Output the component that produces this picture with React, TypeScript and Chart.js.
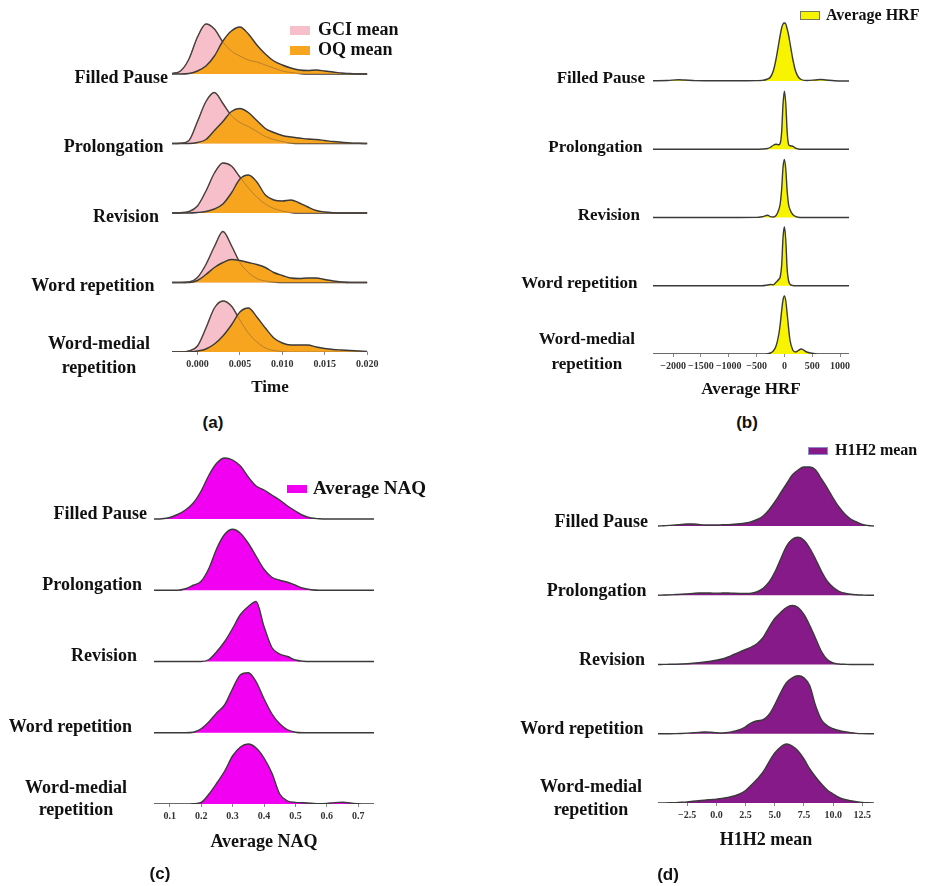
import React, { useEffect, useRef } from 'react';
import { Chart, registerables } from 'chart.js';

Chart.register(...registerables);

// ---------------- Shared categories ----------------
const CATEGORY_LINES: string[][] = [
  ['Filled Pause'],
  ['Prolongation'],
  ['Revision'],
  ['Word repetition'],
  ['Word-medial', 'repetition'],
];

// ---------------- Panel (a): GCI mean / OQ mean vs Time ----------------
const TIME_X = [-0.003, -0.002, -0.001, 0, 0.001, 0.002, 0.003, 0.004, 0.005, 0.006, 0.007, 0.008,
  0.009, 0.01, 0.011, 0.012, 0.013, 0.014, 0.015, 0.016, 0.017, 0.018, 0.019, 0.02];
const TIME_TICKS = [0, 0.005, 0.01, 0.015, 0.02];
const GCI_FP = [0.5, 3, 15, 37, 50, 45, 32, 23, 18, 14, 12, 9, 6, 3, 1.5, 0.5, 0, 0, 0, 0, 0, 0, 0, 0];
const GCI_PRO = [0, 0.3, 3, 22, 42, 51, 40, 28, 21, 17, 12, 7, 4, 2, 0.5, 0, 0, 0, 0, 0, 0, 0, 0, 0];
const GCI_REV = [0, 0.3, 1.5, 7, 22, 40, 50, 47, 36, 25, 16, 9, 4.5, 2, 0.5, 0, 0, 0, 0, 0, 0, 0, 0, 0];
const GCI_WR = [0, 0, 0.5, 5, 18, 36, 51, 37, 20, 10, 4, 1.5, 0.5, 0, 0, 0, 0, 0, 0, 0, 0, 0, 0, 0];
const GCI_WM = [0, 0, 1, 6, 24, 44, 51, 46, 32, 19, 10, 4, 1.5, 0.5, 0, 0, 0, 0, 0, 0, 0, 0, 0, 0];
const OQ_FP = [0, 0, 0.5, 3, 8, 18, 33, 43, 47, 40, 29, 20, 13, 9, 6, 4, 3.5, 4, 3, 2, 1, 0.5, 0, 0];
const OQ_PRO = [0, 0, 0, 1, 4, 13, 22, 32, 35, 31, 23, 15, 11, 8, 6.5, 5.5, 4.5, 4, 3, 2, 1.2, 0.5, 0.2, 0];
const OQ_REV = [0, 0, 0, 0.5, 1.5, 4, 9, 20, 34, 38, 31, 18, 13, 12, 13, 10, 6, 2.5, 1, 0.3, 0, 0, 0, 0];
const OQ_WR = [0, 0, 0, 2, 8, 15, 20, 23, 22, 20, 18, 15, 10, 7, 4.5, 4, 4.5, 4.5, 3, 1.5, 0.5, 0, 0, 0];
const OQ_WM = [0, 0, 0, 1, 3, 8, 16, 27, 40, 44, 35, 24, 14, 9, 7, 7, 7, 5, 3.5, 2.5, 2, 1.5, 1, 0.5];

// ---------------- Panel (b): Average HRF ----------------
const HRF_X = [-2360, -2100, -1900, -1800, -1600, -1200, -800, -500, -400, -300, -250, -200, -150, -100,
  -75, -50, -25, 0, 25, 50, 75, 100, 150, 200, 250, 300, 400, 550, 650, 750, 900, 1160];
const HRF_TICKS = [-2000, -1500, -1000, -500, 0, 500, 1000];
const HRF_FP = [0.2, 0.5, 1.2, 1, 0.4, 0.2, 0.2, 0.4, 0.6, 2, 4, 10, 22, 38, 46, 53, 57, 58, 57, 52, 46, 38,
  22, 10, 4, 1.5, 0.5, 1, 1.5, 1, 0.3, 0];
const HRF_PRO = [0, 0, 0, 0, 0, 0, 0, 0, 0.2, 0.8, 2, 4, 5, 4.5, 6, 17, 45, 58, 45, 17, 5, 3.5, 3, 1, 0.3,
  0, 0, 0, 0, 0, 0, 0];
const HRF_REV = [0, 0, 0, 0, 0, 0, 0, 0.1, 0.8, 2.2, 0.8, 0.5, 2, 8, 14, 28, 50, 58, 48, 26, 13, 8, 3, 1,
  0.3, 0, 0, 0, 0, 0, 0, 0];
const HRF_WR = [0, 0, 0, 0, 0, 0, 0, 0, 0, 0.8, 1.3, 1, 3.5, 6.5, 9, 20, 48, 59, 45, 16, 5, 1.5, 0.3, 0, 0,
  0, 0, 0, 0, 0, 0, 0];
const HRF_WM = [0, 0, 0, 0, 0, 0, 0, 0, 0, 0.3, 1, 3, 8, 20, 30, 43, 54, 58, 53, 40, 26, 14, 4, 2, 3.5, 5,
  2, 0.2, 0, 0, 0, 0];

// ---------------- Panel (c): Average NAQ ----------------
const NAQ_X = [0.05, 0.075, 0.1, 0.125, 0.15, 0.175, 0.2, 0.225, 0.25, 0.275, 0.3, 0.325, 0.35, 0.375, 0.4,
  0.425, 0.45, 0.475, 0.5, 0.525, 0.55, 0.575, 0.6, 0.625, 0.65, 0.675, 0.7, 0.725, 0.75];
const NAQ_TICKS = [0.1, 0.2, 0.3, 0.4, 0.5, 0.6, 0.7];
const NAQ_FP = [0, 0.3, 1.5, 4.5, 9, 16, 28, 44, 56, 61, 59, 53, 42, 33, 29, 24, 19, 13, 8, 3.5, 1, 0.3, 0,
  0, 0, 0, 0, 0, 0];
const NAQ_PRO = [0, 0, 0, 0, 1.5, 5, 9, 22, 42, 56, 61, 57, 47, 34, 21, 13, 10, 8, 5, 2, 0.5, 0, 0, 0, 0, 0,
  0, 0, 0];
const NAQ_REV = [0, 0, 0, 0, 0, 0, 0, 2, 10, 20, 33, 47, 55, 60, 35, 14, 7.5, 5, 1.5, 0.3, 0, 0, 0, 0, 0, 0,
  0, 0, 0];
const NAQ_WR = [0, 0, 0, 0, 0, 0.5, 4, 11, 20, 28, 44, 58, 60, 51, 34, 19, 9, 3, 0.5, 0, 0, 0, 0, 0, 0, 0,
  0, 0, 0];
const NAQ_WM = [0, 0, 0, 0, 0, 0.3, 1.5, 10, 21, 33, 48, 57, 60, 56, 46, 31, 10, 3, 1.6, 1.3, 0.8, 0.4, 0.6,
  1.4, 1.7, 1, 0.2, 0, 0];

// ---------------- Panel (d): H1H2 mean ----------------
const H1H2_X = [-5, -4.5, -4, -3.5, -3, -2.5, -2, -1.5, -1, -0.5, 0, 0.5, 1, 1.5, 2, 2.5, 3, 3.5, 4, 4.5, 5,
  5.5, 6, 6.5, 7, 7.5, 8, 8.5, 9, 9.5, 10, 10.5, 11, 11.5, 12, 12.5, 13, 13.5];
const H1H2_TICKS = [-2.5, 0, 2.5, 5, 7.5, 10, 12.5];
const H1H2_FP = [0, 0.3, 0.6, 1, 1.5, 2, 2, 1.5, 1.1, 1, 1, 1.2, 1.4, 1.7, 2.2, 3, 4.3, 6.5, 10, 16, 24, 33,
  42, 51, 56, 59, 59, 56, 47, 38, 28, 19, 12, 7, 4, 1.5, 0.5, 0];
const H1H2_PRO = [0, 0.2, 0.4, 0.7, 1, 1.4, 1.8, 2.2, 2.3, 2.2, 2.1, 2.2, 2.3, 2, 1.8, 1.7, 2, 3.5, 7, 13,
  23, 36, 49, 56, 58, 55, 47, 36, 24, 14, 8, 4, 2, 1, 0.5, 0.2, 0, 0];
const H1H2_REV = [0, 0.1, 0.2, 0.3, 0.5, 0.8, 1.2, 1.8, 2.5, 3.3, 4.2, 5.5, 7.5, 10, 12.5, 15, 17.5, 21, 27,
  37, 46, 52, 57, 59, 57, 50, 39, 26, 13, 5, 1.5, 0.5, 0.2, 0, 0, 0, 0, 0];
const H1H2_WR = [0, 0, 0, 0.1, 0.3, 0.6, 1, 1.4, 1.7, 1.5, 1, 0.8, 1.2, 2.5, 4, 7, 11, 13, 14, 19, 29, 41,
  51, 56, 58, 56, 48, 28, 14, 8, 5, 3.3, 2, 1, 0.4, 0.1, 0, 0];
const H1H2_WM = [0, 0.1, 0.2, 0.4, 0.7, 1.1, 1.7, 2.3, 2.9, 3.4, 3.9, 4.6, 5.5, 7, 9, 12.5, 18, 24, 31, 41,
  50, 56, 59, 57, 52, 44, 34, 26, 19, 13, 9, 5.5, 3.5, 2.2, 1.2, 0.5, 0.2, 0];

// ---------------- Rendering ----------------
const SERIF = "'Liberation Serif', 'Times New Roman', 'DejaVu Serif', serif";
const OUTLINE = '#3a3a3a';

type Layer = { values: number[][]; fill: string | null; stroke: string; width: number };
type LegendItem = { label: string; color: string; border?: string };

type PanelProps = {
  left: number; top: number; width: number; height: number;
  xs: number[]; xMin: number; xMax: number; ticks: number[]; tickFormat: (v: number) => string;
  title: string; titleSize: number;
  pad: { left: number; right: number; top: number; bottom: number };
  axisHeight: number; yMax: number; rowPx: number;
  layers: Layer[];
  legend: LegendItem[]; legendPos: { x: number; y: number; w: number; h: number; dy: number; size: number; gap: number };
  labelStyle: { size: number; dy: number; gap0: number; slope: number; lineGap: number };
};

function RidgePanel(p: PanelProps) {
  const ref = useRef<HTMLCanvasElement | null>(null);
  useEffect(() => {
    if (!ref.current) return;
    const nCat = CATEGORY_LINES.length;
    const nL = p.layers.length;
    const datasets: any[] = [];
    for (let i = 0; i < nCat; i++) {
      const base = nCat - 1 - i;
      p.layers.forEach((layer, L) => {
        const vals = layer.values[i];
        const seq = i * nL + L;
        datasets.push({
          data: p.xs.map((x, j) => ({ x, y: base + vals[j] / p.rowPx })),
          fill: layer.fill ? { value: base } : false,
          backgroundColor: layer.fill || 'transparent',
          borderColor: layer.stroke,
          borderWidth: layer.width,
          pointRadius: 0,
          cubicInterpolationMode: 'monotone',
          order: 1000 - seq,
        });
      });
    }

    const decor = {
      id: 'ridgeDecor',
      afterDraw(chart: any) {
        const ctx = chart.ctx as CanvasRenderingContext2D;
        const area = chart.chartArea;
        const ys = chart.scales.y;
        ctx.save();
        // category labels
        const ls = p.labelStyle;
        ctx.font = `bold ${ls.size}px ${SERIF}`;
        ctx.fillStyle = '#111';
        ctx.textBaseline = 'middle';
        CATEGORY_LINES.forEach((lines, i) => {
          const base = nCat - 1 - i;
          const yb = ys.getPixelForValue(base) + ls.dy;
          const right = area.left - (ls.gap0 + ls.slope * i);
          const maxW = Math.max(...lines.map((l) => ctx.measureText(l).width));
          lines.forEach((l, k) => {
            const y = yb + (k - (lines.length - 1) / 2) * ls.lineGap;
            if (lines.length === 1) {
              ctx.textAlign = 'right';
              ctx.fillText(l, right, y);
            } else {
              ctx.textAlign = 'center';
              ctx.fillText(l, right - maxW / 2, y);
            }
          });
        });
        // legend
        const lp = p.legendPos;
        ctx.font = `bold ${lp.size}px ${SERIF}`;
        ctx.textAlign = 'left';
        p.legend.forEach((it, k) => {
          const y = lp.y + k * lp.dy;
          ctx.fillStyle = it.color;
          ctx.fillRect(lp.x, y, lp.w, lp.h);
          if (it.border) {
            ctx.strokeStyle = it.border;
            ctx.lineWidth = 1;
            ctx.strokeRect(lp.x + 0.5, y + 0.5, lp.w - 1, lp.h - 1);
          }
          ctx.fillStyle = '#111';
          ctx.fillText(it.label, lp.x + lp.w + lp.gap, y + lp.h / 2);
        });
        ctx.restore();
      },
    };

    const chart = new Chart(ref.current, {
      type: 'line',
      data: { datasets },
      plugins: [decor],
      options: {
        animation: false,
        responsive: false,
        devicePixelRatio: 1,
        layout: { padding: p.pad },
        plugins: { legend: { display: false }, tooltip: { enabled: false } },
        scales: {
          x: {
            type: 'linear',
            min: p.xMin,
            max: p.xMax,
            position: 'bottom',
            border: { display: false },
            grid: { display: true, drawOnChartArea: false, drawTicks: true, tickLength: 3, color: '#888' },
            afterBuildTicks: (s: any) => { s.ticks = p.ticks.map((v) => ({ value: v })); },
            afterFit: (s: any) => { s.height = p.axisHeight; },
            ticks: {
              autoSkip: false,
              maxRotation: 0,
              padding: 3,
              color: '#333',
              font: { family: SERIF, size: 10, weight: 'bold' },
              callback: (v: any) => p.tickFormat(Number(v)),
            },
            title: {
              display: true,
              text: p.title,
              color: '#111',
              padding: { top: 0, bottom: 0 },
              font: { family: SERIF, size: p.titleSize, weight: 'bold' },
            },
          },
          y: { type: 'linear', min: 0, max: p.yMax, display: false },
        },
      } as any,
    });
    return () => chart.destroy();
  }, []);
  return (
    <canvas
      ref={ref}
      width={p.width}
      height={p.height}
      style={{ position: 'absolute', left: p.left, top: p.top, width: p.width, height: p.height }}
    />
  );
}

const minus = (s: string) => s.replace('-', '\u2212');

const PANEL_LETTER: React.CSSProperties = {
  position: 'absolute',
  transform: 'translate(-50%, -50%)',
  fontFamily: "'Liberation Sans', Arial, sans-serif",
  fontWeight: 'bold',
  fontSize: 17,
  color: '#111',
  whiteSpace: 'nowrap',
};

export default function App() {
  return (
    <div style={{ position: 'absolute', left: 0, top: 0, width: 930, height: 886, background: '#fff', overflow: 'hidden' }}>
      <RidgePanel
        left={0} top={0} width={465} height={410}
        xs={TIME_X} xMin={-0.003} xMax={0.0201} ticks={TIME_TICKS} tickFormat={(v) => v.toFixed(3)}
        title="Time" titleSize={17}
        pad={{ left: 172, right: 97, top: 10, bottom: 12 }} axisHeight={46}
        yMax={4 + 64 / 69.5} rowPx={69.5}
        layers={[
          { values: [GCI_FP, GCI_PRO, GCI_REV, GCI_WR, GCI_WM], fill: '#F6BFCA', stroke: OUTLINE, width: 1.4 },
          { values: [OQ_FP, OQ_PRO, OQ_REV, OQ_WR, OQ_WM], fill: '#F7A51F', stroke: OUTLINE, width: 1.4 },
          { values: [GCI_FP, GCI_PRO, GCI_REV, GCI_WR, GCI_WM], fill: null, stroke: 'rgba(110,80,60,0.45)', width: 1 },
        ]}
        legend={[{ label: 'GCI mean', color: '#F6BFCA' }, { label: 'OQ mean', color: '#F7A51F' }]}
        legendPos={{ x: 290, y: 26, w: 20, h: 9, dy: 20, size: 18, gap: 8 }}
        labelStyle={{ size: 18, dy: 4, gap0: 4, slope: 4.5, lineGap: 24 }}
      />
      <RidgePanel
        left={465} top={0} width={465} height={410}
        xs={HRF_X} xMin={-2360} xMax={1160} ticks={HRF_TICKS} tickFormat={(v) => minus(String(v))}
        title="Average HRF" titleSize={17}
        pad={{ left: 188, right: 81, top: 10, bottom: 10 }} axisHeight={46}
        yMax={4 + 71 / 68.25} rowPx={68.25}
        layers={[{ values: [HRF_FP, HRF_PRO, HRF_REV, HRF_WR, HRF_WM], fill: '#F8F400', stroke: OUTLINE, width: 1.4 }]}
        legend={[{ label: 'Average HRF', color: '#F8F400', border: '#77775a' }]}
        legendPos={{ x: 335, y: 11, w: 20, h: 9, dy: 16, size: 16, gap: 6 }}
        labelStyle={{ size: 17, dy: -2, gap0: 8, slope: 2.5, lineGap: 25 }}
      />
      <RidgePanel
        left={0} top={440} width={465} height={446}
        xs={NAQ_X} xMin={0.05} xMax={0.75} ticks={NAQ_TICKS} tickFormat={(v) => v.toFixed(1)}
        title="Average NAQ" titleSize={18}
        pad={{ left: 154, right: 91, top: 10, bottom: 33 }} axisHeight={49}
        yMax={4 + 69 / 71.25} rowPx={71.25}
        layers={[{ values: [NAQ_FP, NAQ_PRO, NAQ_REV, NAQ_WR, NAQ_WM], fill: '#F200F2', stroke: OUTLINE, width: 1.4 }]}
        legend={[{ label: 'Average NAQ', color: '#F200F2' }]}
        legendPos={{ x: 287, y: 45, w: 20, h: 8, dy: 16, size: 19, gap: 6 }}
        labelStyle={{ size: 18, dy: -5, gap0: 7, slope: 5, lineGap: 22 }}
      />
      <RidgePanel
        left={465} top={440} width={465} height={446}
        xs={H1H2_X} xMin={-5} xMax={13.5} ticks={H1H2_TICKS} tickFormat={(v) => minus(v.toFixed(1))}
        title="H1H2 mean" titleSize={18}
        pad={{ left: 193, right: 56, top: 10, bottom: 35 }} axisHeight={48}
        yMax={4 + 76 / 69.25} rowPx={69.25}
        layers={[{ values: [H1H2_FP, H1H2_PRO, H1H2_REV, H1H2_WR, H1H2_WM], fill: '#861A88', stroke: OUTLINE, width: 1.4 }]}
        legend={[{ label: 'H1H2 mean', color: '#861A88', border: '#8a8acc' }]}
        legendPos={{ x: 343, y: 7, w: 20, h: 8, dy: 16, size: 16, gap: 7 }}
        labelStyle={{ size: 18, dy: -4, gap0: 10, slope: 1.5, lineGap: 23 }}
      />
      <div style={{ ...PANEL_LETTER, left: 213, top: 423 }}>(a)</div>
      <div style={{ ...PANEL_LETTER, left: 747, top: 423 }}>(b)</div>
      <div style={{ ...PANEL_LETTER, left: 160, top: 874 }}>(c)</div>
      <div style={{ ...PANEL_LETTER, left: 668, top: 875 }}>(d)</div>
    </div>
  );
}
